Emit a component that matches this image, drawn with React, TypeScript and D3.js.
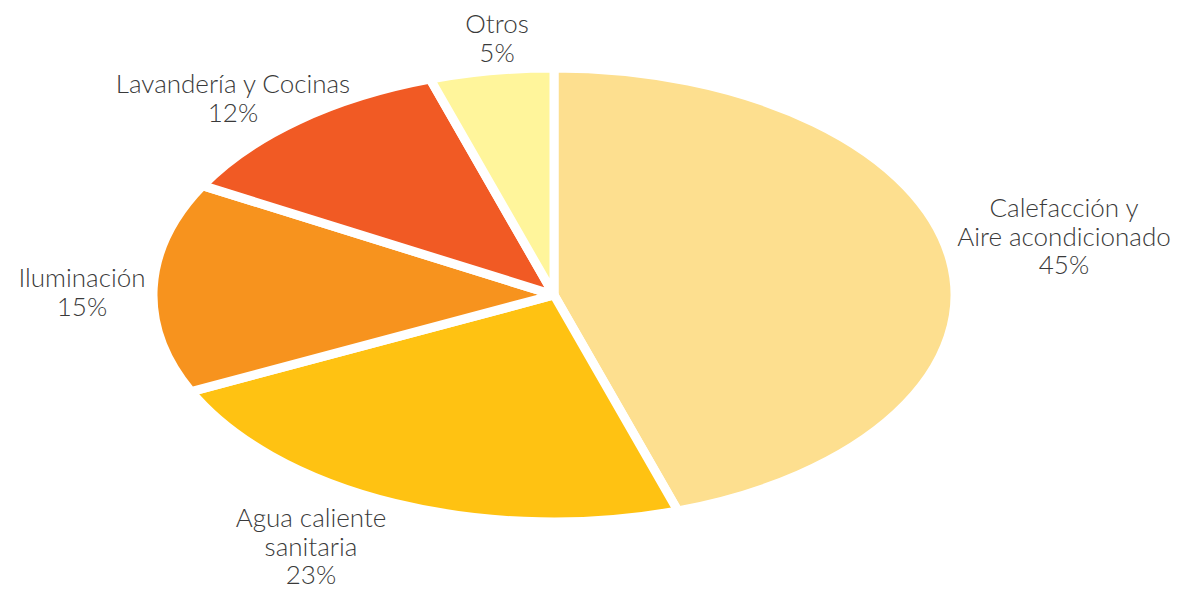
import React from "react";
import * as d3 from "d3";

const categories = [
  "Calefacción y Aire acondicionado",
  "Agua caliente sanitaria",
  "Iluminación",
  "Lavandería y Cocinas",
  "Otros",
];
const values = [45, 23, 15, 12, 5];
const labelLines = [
  ["Calefacción y", "Aire acondicionado", "45%"],
  ["Agua caliente", "sanitaria", "23%"],
  ["Iluminación", "15%"],
  ["Lavandería y Cocinas", "12%"],
  ["Otros", "5%"],
];
const colors = ["#FDDF8F", "#FFC212", "#F7931E", "#F15A24", "#FFF59B"];

// layout (not data)
const labelX = [1064, 311, 82, 233, 497];
const labelFirstBaseline = [217, 527, 287, 93, 33];

export default function App() {
  const W = 1183, H = 589;
  const cx = 554, cy = 295;
  const rx = 401, ry = 227;
  const R = 100;
  const pie = d3.pie<number>().sort(null).value((d) => d)(values);
  const arc = d3.arc<d3.PieArcDatum<number>>().innerRadius(0).outerRadius(R);
  return (
    <svg width={W} height={H} style={{ position: "absolute", left: 0, top: 0, background: "#fff" }}>
      <g transform={`translate(${cx},${cy}) scale(${rx / R},${ry / R})`}>
        {pie.map((p, i) => (
          <path
            key={categories[i]}
            d={arc(p) || ""}
            fill={colors[i]}
            stroke="#fff"
            strokeWidth={9}
            strokeLinejoin="round"
            vectorEffect="non-scaling-stroke"
          />
        ))}
      </g>
      {labelLines.map((lines, i) => (
        <text
          key={categories[i]}
          x={labelX[i]}
          y={labelFirstBaseline[i]}
          textAnchor="middle"
          fontFamily="Lato, 'Open Sans', sans-serif"
          fontSize={26}
          fontWeight={300}
          fill="#3a3a3a"
        >
          {lines.map((l, j) => (
            <tspan key={j} x={labelX[i]} dy={j === 0 ? 0 : 28.5}>
              {l}
            </tspan>
          ))}
        </text>
      ))}
    </svg>
  );
}
